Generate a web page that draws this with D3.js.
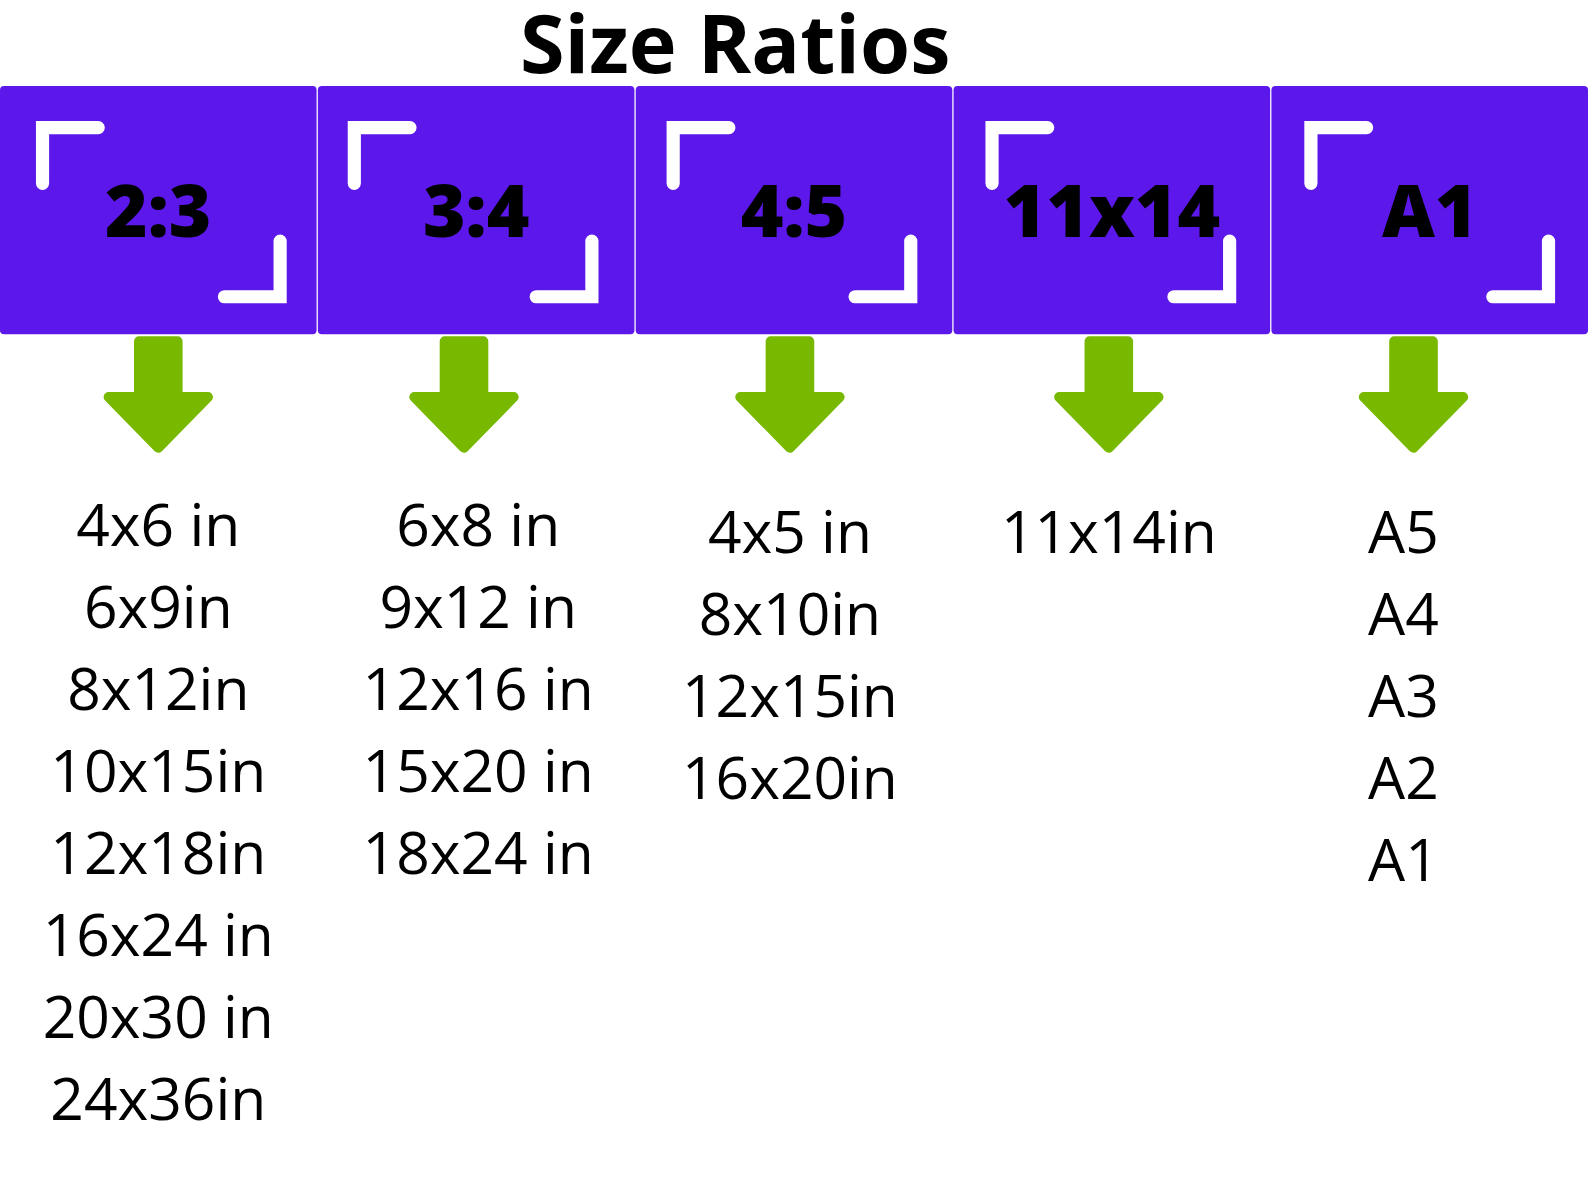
<!DOCTYPE html>
<html><head><meta charset="utf-8">
<script src="https://cdn.jsdelivr.net/npm/d3@7"></script>
<style>html,body{margin:0;padding:0;background:#fff;overflow:hidden;width:1588px;height:1191px;}svg{display:block;position:absolute;left:0;top:0;}</style>
</head><body>
<script>
// ---- data ----
const title = "Size Ratios";
const ratios = ["2:3", "3:4", "4:5", "11x14", "A1"];
const sizes2x3 = ["4x6 in", "6x9in", "8x12in", "10x15in", "12x18in", "16x24 in", "20x30 in", "24x36in"];
const sizes3x4 = ["6x8 in", "9x12 in", "12x16 in", "15x20 in", "18x24 in"];
const sizes4x5 = ["4x5 in", "8x10in", "12x15in", "16x20in"];
const sizes11x14 = ["11x14in"];
const sizesA1 = ["A5", "A4", "A3", "A2", "A1"];
const sizeLists = [sizes2x3, sizes3x4, sizes4x5, sizes11x14, sizesA1];

// ---- layout ----
const W = 1588, H = 1191;
const k = 1588 / 1568;
const purple = "#5c18eb", green = "#78b900";
const arrowNudge = [0, -12, -4, -3, -16];
const textNudge = [0, 2, -4, -3, -26];
const textTopNudge = [0, 0, 7, 7, 7];
const bracketNudge = [0, -6, -5, -4, -3];

const svg = d3.select("body").append("svg").attr("width", W).attr("height", H);
const root = svg.append("g").attr("transform", `scale(${k})`);

const x = d3.scaleBand().domain(ratios).range([0, 1568]).paddingInner(0.004);
const row = d3.scaleLinear().domain([0, 1]).range([539, 620]);

root.append("text").attr("x", 726).attr("y", 72).attr("text-anchor", "middle")
  .attr("font-family", "Open Sans").attr("font-weight", 700).attr("font-size", 80)
  .attr("fill", "#000").text(title);

const boxTop = 85, boxH = 245;
const g = root.selectAll("g.col").data(ratios).join("g").attr("class", "col");

g.append("rect").attr("x", d => x(d)).attr("y", boxTop)
  .attr("width", x.bandwidth()).attr("height", boxH).attr("rx", 4).attr("fill", purple);

// brackets
g.append("path").attr("fill", "none").attr("stroke", "#fff").attr("stroke-width", 13)
  .attr("stroke-linecap", "round").attr("stroke-linejoin", "miter")
  .attr("d", (d, i) => { const X = x(d) + 42 + bracketNudge[i], Y = boxTop + 41; return `M${X},${Y + 55}L${X},${Y}L${X + 55},${Y}`; });
g.append("path").attr("fill", "none").attr("stroke", "#fff").attr("stroke-width", 13)
  .attr("stroke-linecap", "round").attr("stroke-linejoin", "miter")
  .attr("d", (d, i) => { const X = x(d) + x.bandwidth() - 36 + bracketNudge[i], Y = boxTop + boxH - 37; return `M${X},${Y - 55}L${X},${Y}L${X - 55},${Y}`; });

g.append("text").attr("x", d => x(d) + x.bandwidth() / 2).attr("y", 234)
  .attr("text-anchor", "middle").attr("font-family", "Open Sans").attr("font-weight", 800)
  .attr("font-size", 72).attr("fill", "#000").text(d => d);

// arrows
g.append("path").attr("fill", green).attr("stroke", green).attr("stroke-width", 10).attr("stroke-linejoin", "round")
  .attr("d", (d, i) => {
    const cx = x(d) + x.bandwidth() / 2 + arrowNudge[i];
    const t = 337, sy = 392, tip = 442, sw = 19, hw = 49;
    return `M${cx - sw},${t}L${cx + sw},${t}L${cx + sw},${sy}L${cx + hw},${sy}L${cx},${tip}L${cx - hw},${sy}L${cx - sw},${sy}Z`;
  });

// size lists
g.each(function (d, i) {
  const cx = x(d) + x.bandwidth() / 2 + textNudge[i];
  d3.select(this).selectAll("text.size").data(sizeLists[i]).join("text").attr("class", "size")
    .attr("x", cx).attr("y", (s, j) => row(j) + textTopNudge[i])
    .attr("text-anchor", "middle").attr("font-family", "Open Sans").attr("font-weight", 400)
    .attr("font-size", 58).attr("fill", "#000").text(s => s);
});
</script>
</body></html>
